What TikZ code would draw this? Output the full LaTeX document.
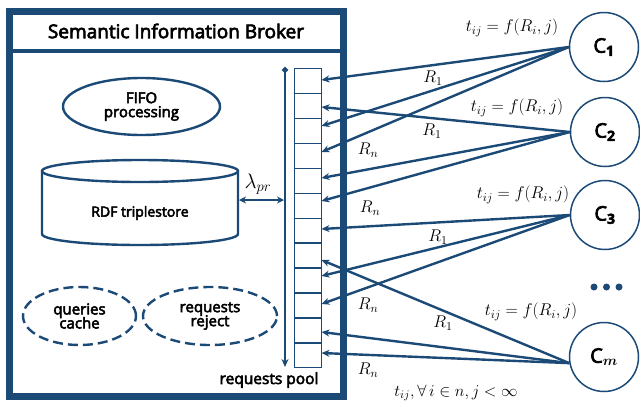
\documentclass[tikz,border=0pt]{standalone}
\usepackage{fix-cm}
\usepackage{amsmath}
\usepackage{fontspec}
\setmainfont{Open Sans}[FakeBold=3.5]
\usetikzlibrary{shapes.geometric,arrows.meta}
\definecolor{dblue}{RGB}{28,74,118}
\begin{document}
\begin{tikzpicture}[x=1pt,y=-1pt,
  outer/.style={draw=dblue, line width=7pt},
  conn/.style={draw=dblue, line width=2.4pt, -{Stealth[length=8pt,width=7pt]}},
  client/.style={circle, draw=dblue, line width=1.5pt, minimum size=69pt, inner sep=0pt, font=\fontsize{20}{24}\selectfont},
  lbl/.style={font=\fontsize{17}{19}\selectfont, inner sep=0pt},
  proc/.style={ellipse, draw=dblue, line width=2.4pt, align=center, inner sep=0pt, font=\fontsize{15}{16}\selectfont},
  dproc/.style={proc, dash pattern=on 10pt off 5pt},
  cellst/.style={draw=dblue, line width=1.4pt, minimum width=27pt, minimum height=24.92pt, inner sep=0pt},
  dotst/.style={circle, fill=dblue, inner sep=0pt, minimum size=7pt}
]
\useasboundingbox (0,0) rectangle (640,408);
% outer broker box
\draw[outer] (9,11.5) rectangle (343,396);
\draw[draw=dblue, line width=3.5pt] (9,51) -- (343,51);
\node[font=\fontsize{19}{21}\selectfont] (title) at (176,31) {Semantic Information Broker};

% processes
\node[proc, minimum width=157pt, minimum height=57pt] (fifo) at (141.5,106.5) {FIFO\\[-2pt]processing};
\node[dproc, minimum width=113pt, minimum height=58pt] (cache) at (79.5,316) {queries\\[-2pt]cache};
\node[dproc, minimum width=134pt, minimum height=58pt] (reject) at (210,316) {requests\\[-2pt]reject};

% cylinder
\draw[draw=dblue, line width=2.4pt] (140,171) ellipse [x radius=98, y radius=11];
\draw[draw=dblue, line width=2.4pt] (42,171) -- (42,234)
  .. controls (42,240.1) and (85.9,245) .. (140,245)
  .. controls (194.1,245) and (238,240.1) .. (238,234) -- (238,171);
\node[font=\fontsize{14}{16}\selectfont] (rdf) at (140,213) {RDF triplestore};
\coordinate (rdfR) at (239,200);

% requests pool
\foreach \i in {1,...,12} {
  \node[cellst, anchor=north west] (cell\i) at (293.5,{68+(\i-1)*24.92}) {};
}
\node[font=\fontsize{15.5}{17}\selectfont, anchor=east] (pooltxt) at (322,380) {requests pool};
\coordinate (vtop) at (285,67);
\coordinate (vbot) at (285,367);
\draw[draw=dblue, line width=2.2pt, {Circle[length=6pt]}-{Stealth[length=8pt,width=7pt]}] (vtop) -- (vbot);
\coordinate (vmid) at (284,200);
\draw[draw=dblue, line width=2.4pt, {Stealth[length=7pt,width=7pt]}-{Stealth[length=7pt,width=7pt]}] (rdfR) -- (vmid);
\node[lbl, font=\fontsize{21}{23}\selectfont] (lam) at (258,184) {$\lambda_{pr}$};

% arrival points on the pool
\foreach \n/\y in {1/80,2/107,3/126,4/152,5/178,6/201,7/229,8/260,9/276,10/304,11/332,12/353} {
  \coordinate (t\n) at (321.5,\y);
}

% clients
\node[client] (C1) at (604,47) {C$_{\mathbf{1}}$};
\node[client] (C2) at (605,132) {C$_{\mathbf{2}}$};
\node[client] (C3) at (605,215) {C$_{\mathbf{3}}$};
\node[client] (Cm) at (604,357) {C$_{\boldsymbol{m}}$};
\node[dotst] (d1) at (594,287) {};
\node[dotst] (d2) at (606.5,287) {};
\node[dotst] (d3) at (619,287) {};

% connectors
\foreach \t in {t1,t3,t4} \draw[conn] (C1.west) -- (\t);
\foreach \t in {t2,t5,t6} \draw[conn] (C2.west) -- (\t);
\foreach \t in {t7,t9,t10} \draw[conn] (C3.west) -- (\t);
\foreach \t in {t8,t11,t12} \draw[conn] (Cm.190) -- (\t);

% labels
\node[lbl] (f1) at (512,28) {$t_{ij}=f(R_i,j)$};
\node[lbl] (f2) at (517,108) {$t_{ij}=f(R_i,j)$};
\node[lbl] (f3) at (523,195) {$t_{ij}=f(R_i,j)$};
\node[lbl] (f4) at (531,312) {$t_{ij}=f(R_i,j)$};
\node[lbl] (r1a) at (433,78) {$R_1$};
\node[lbl] (r1b) at (432,131) {$R_1$};
\node[lbl] (r1c) at (438,237) {$R_1$};
\node[lbl] (r1d) at (443,323) {$R_1$};
\node[lbl] (rna) at (368,150) {$R_n$};
\node[lbl] (rnb) at (370,208) {$R_n$};
\node[lbl] (rnc) at (368,305) {$R_n$};
\node[lbl] (rnd) at (368,370) {$R_n$};
\node[lbl, font=\fontsize{16.5}{18}\selectfont] (cond) at (456,393) {$t_{ij},\forall\, i\in n, j<\infty$};
\end{tikzpicture}
\end{document}
